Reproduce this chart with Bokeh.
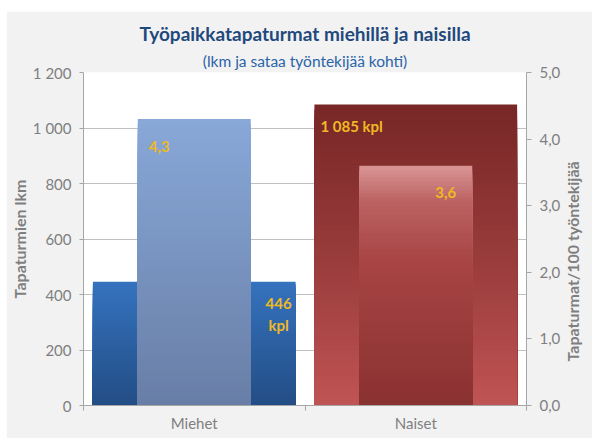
import math
from bokeh.plotting import figure
from bokeh.models import (Range1d, LinearAxis, FixedTicker, Title, Label,
                          ColumnDataSource)
from bokeh.embed import file_html
from bokeh.resources import INLINE

# ---------------- data ----------------
categories = ["Miehet", "Naiset"]
counts = [446, 1085]                 # Tapaturmien lkm
rates = [4.3, 3.6]                   # Tapaturmat / 100 työntekijää
count_labels = ["446\nkpl", "1 085 kpl"]
rate_labels = ["4,3", "3,6"]
left_ticks = [0, 200, 400, 600, 800, 1000, 1200]
left_tick_labels = ["0", "200", "400", "600", "800", "1 000", "1 200"]
right_ticks = [0, 1, 2, 3, 4, 5]
right_tick_labels = ["0,0", "1,0", "2,0", "3,0", "4,0", "5,0"]
title_text = "Työpaikkatapaturmat miehillä ja naisilla"
subtitle_text = "(lkm ja sataa työntekijää kohti)"
left_axis_title = "Tapaturmien lkm"
right_axis_title = "Tapaturmat/100 työntekijää"

# ---------------- styles ----------------
FONT = "Lato"
GRAY_TXT = "#7f7f7f"
AXIS_GRAY = "#a6a6a6"
LABEL_GOLD = "#efb925"
BG = "#f2f2f2"
primary_stops = [  # (fraction of height, colour) bottom -> top
    [(0.0, "#234d85"), (1.0, "#3573be")],
    [(0.0, "#c05454"), (0.45, "#9c3d3d"), (1.0, "#772626")],
]
secondary_stops = [
    [(0.0, "#687ea6"), (1.0, "#88a8d8")],
    [(0.0, "#8a3131"), (0.6, "#a84444"), (0.85, "#bb6262"), (1.0, "#da9595")],
]
PRIMARY_W = 0.915
SECONDARY_W = 0.51
N = 60
# lead-in space so the bottom-anchored right title sits centred like the original
RIGHT_TITLE_PAD = "\u2003\u2003\u2003\u2002"


def hex2rgb(h):
    h = h.lstrip("#")
    return tuple(int(h[i:i + 2], 16) for i in (0, 2, 4))


def interp(stops, f):
    for (f0, c0), (f1, c1) in zip(stops[:-1], stops[1:]):
        if f0 <= f <= f1:
            t = 0 if f1 == f0 else (f - f0) / (f1 - f0)
            a, b = hex2rgb(c0), hex2rgb(c1)
            return "#%02x%02x%02x" % tuple(int(round(a[k] + (b[k] - a[k]) * t)) for k in range(3))
    return stops[-1][1]


p = figure(frame_width=443, frame_height=333, output_backend="svg", toolbar_location=None,
           x_range=Range1d(0, len(categories)), y_range=Range1d(0, 1200),
           min_border_left=75, min_border_right=66, min_border_top=61,
           min_border_bottom=33, margin=(11, 0, 0, 6))
p.background_fill_color = "white"
p.border_fill_color = BG
p.outline_line_color = None
p.extra_y_ranges = {"rate": Range1d(0, 5)}

# gradient bars: nested strips, tallest drawn first
def gradient_bar(xc, w, val, stops, range_name="default"):
    xs, tops, cols = [], [], []
    for k in range(N - 1, -1, -1):
        xs.append(xc)
        tops.append(val * (k + 1) / N)
        cols.append(interp(stops, (k + 0.5) / N))
    src = ColumnDataSource(dict(x=xs, top=tops, c=cols))
    p.vbar(x="x", width=w, bottom=0, top="top", fill_color="c", line_color=None,
           source=src, y_range_name=range_name)

centers = [i + 0.5 for i in range(len(categories))]
for i in range(len(categories)):
    gradient_bar(centers[i], PRIMARY_W, counts[i], primary_stops[i])
for i in range(len(categories)):
    gradient_bar(centers[i], SECONDARY_W, rates[i], secondary_stops[i], "rate")

# grid
p.xgrid.visible = False
p.ygrid.ticker = FixedTicker(ticks=left_ticks)
p.ygrid.grid_line_color = "#c0c0c0"

# left axis
la = p.yaxis[0]
la.ticker = FixedTicker(ticks=left_ticks)
la.major_label_overrides = {t: s for t, s in zip(left_ticks, left_tick_labels)}
la.axis_label = left_axis_title
# bottom axis
ba = p.xaxis[0]
ba.ticker = FixedTicker(ticks=centers, minor_ticks=list(range(len(categories) + 1)))
ba.major_label_overrides = {c: s for c, s in zip(centers, categories)}
ba.major_tick_out = 0
ba.major_tick_in = 0
ba.minor_tick_out = 5
ba.minor_tick_in = 0
# right axis with tick labels
ra = LinearAxis(y_range_name="rate", ticker=FixedTicker(ticks=right_ticks))
ra.major_label_overrides = {t: s for t, s in zip(right_ticks, right_tick_labels)}
p.add_layout(ra, "right")
# second right axis only carrying the title, rotated to read bottom-to-top
rt = LinearAxis(y_range_name="rate", ticker=FixedTicker(ticks=[]),
                axis_label=RIGHT_TITLE_PAD + right_axis_title)
rt.axis_line_color = None
rt.major_tick_line_color = None
rt.minor_tick_line_color = None
rt.major_label_text_font_size = "0px"
rt.axis_label_orientation = math.pi / 2
rt.axis_label_standoff = 9
try:
    rt.axis_label_align = "start"
except Exception:
    pass
p.add_layout(rt, "right")

for ax in (la, ba, ra):
    ax.axis_line_color = AXIS_GRAY
    ax.major_tick_line_color = AXIS_GRAY
    ax.minor_tick_line_color = AXIS_GRAY
    ax.major_label_text_color = GRAY_TXT
    ax.major_label_text_font = FONT
    ax.major_label_text_font_size = "15px"
for ax in (la, rt):
    ax.axis_label_text_color = GRAY_TXT
    ax.axis_label_text_font = FONT
    ax.axis_label_text_font_size = "16px"
    ax.axis_label_text_font_style = "bold"
la.minor_tick_line_color = None
ra.minor_tick_line_color = None
la.major_tick_in = 0
la.major_tick_out = 4
ra.major_tick_in = 0
ra.major_tick_out = 5
la.major_label_standoff = 8
ra.major_label_standoff = 8
ba.major_label_standoff = 3
la.axis_label_standoff = 1

# titles
p.add_layout(Title(text=subtitle_text, align="center", text_font=FONT,
                   text_font_size="15.5px", text_font_style="normal",
                   text_color="#2a64a8", offset=-6, standoff=6), "above")
p.add_layout(Title(text=title_text, align="center", text_font=FONT,
                   text_font_size="19px", text_font_style="bold",
                   text_color="#1f497d", offset=-6, standoff=4), "above")

# data labels
def add_label(x, y, text, x_off, y_off, align, rng="default"):
    p.add_layout(Label(x=x, y=y, text=text, x_offset=x_off, y_offset=y_off,
                       text_align=align, text_baseline="middle",
                       text_font=FONT, text_font_size="15px",
                       text_font_style="bold", text_color=LABEL_GOLD,
                       text_line_height=1.2, y_range_name=rng))

# Miehet
add_label(centers[0] - SECONDARY_W / 2, rates[0], rate_labels[0], 11, -27, "left", "rate")
add_label(centers[0] + PRIMARY_W / 2, counts[0], count_labels[0], -17, -32, "center")
# Naiset
add_label(centers[1] - PRIMARY_W / 2, counts[1], count_labels[1], 6, -22, "left")
add_label(centers[1] + SECONDARY_W / 2, rates[1], rate_labels[1], -16, -27, "right", "rate")

open("out.html", "w").write(file_html(p, INLINE))
